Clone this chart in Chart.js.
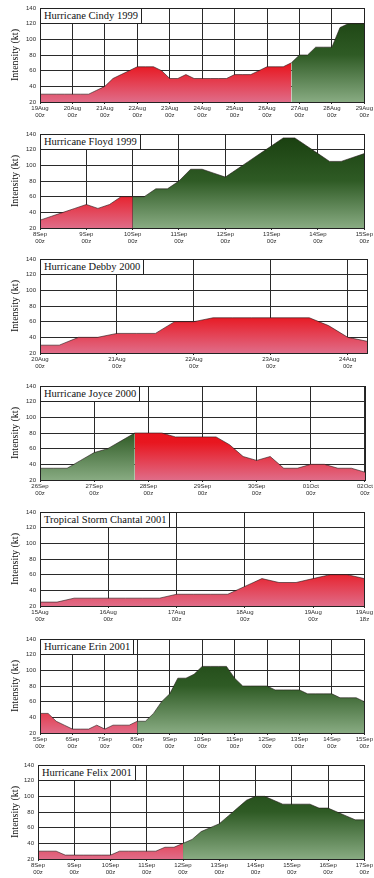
<!DOCTYPE html>
<html>
<head>
<meta charset="utf-8">
<script src="https://cdn.jsdelivr.net/npm/chart.js@4.4.0/dist/chart.umd.min.js"></script>
<style>
body { margin: 0; background: #fff; width: 374px; height: 878px; overflow: hidden; position: relative; }
.panel { position: absolute; left: 0; width: 374px; height: 125px; }
.title { position: absolute; background: #fff; border: 1px solid #222; font: 10.5px "Liberation Serif", serif; color: #111; padding: 0 3px; line-height: 14px; white-space: nowrap; }
</style>
</head>
<body>
<script>
// intensity in kt, every 6 hours from the first tick
var cindyName = 'Hurricane Cindy 1999';
var cindyKt = [30, 30, 30, 30, 30, 30, 30, 35, 40, 50, 55, 60, 65, 65, 65, 60, 50, 50, 55, 50, 50,
    50, 50, 50, 55, 55, 55, 60, 65, 65, 65, 70, 80, 80, 90, 90, 90, 115, 120, 120, 120];
var cindySplit = 31;
var cindyColours = ['red', 'green'];
var cindyTickHours = [0, 24, 48, 72, 96, 120, 144, 168, 192, 216, 240];
var cindyTickLabels = ['19Aug 00z', '20Aug 00z', '21Aug 00z', '22Aug 00z', '23Aug 00z', '24Aug 00z',
    '25Aug 00z', '26Aug 00z', '27Aug 00z', '28Aug 00z', '29Aug 00z'];

var floydName = 'Hurricane Floyd 1999';
var floydKt = [30, 35, 40, 45, 50, 45, 50, 60, 60, 60, 70, 70, 80, 95, 95, 90, 85, 95, 105, 115,
    125, 135, 135, 125, 115, 105, 105, 110, 115];
var floydSplit = 8;
var floydColours = ['red', 'green'];
var floydTickHours = [0, 24, 48, 72, 96, 120, 144, 168];
var floydTickLabels = ['8Sep 00z', '9Sep 00z', '10Sep 00z', '11Sep 00z', '12Sep 00z', '13Sep 00z',
    '14Sep 00z', '15Sep 00z'];

var debbyName = 'Hurricane Debby 2000';
var debbyKt = [30, 30, 40, 40, 45, 45, 45, 60, 60, 65, 65, 65, 65, 65, 65, 55, 40, 35];
var debbySplit = null;
var debbyColours = ['red'];
var debbyTickHours = [0, 24, 48, 72, 96];
var debbyTickLabels = ['20Aug 00z', '21Aug 00z', '22Aug 00z', '23Aug 00z', '24Aug 00z'];

var joyceName = 'Hurricane Joyce 2000';
var joyceKt = [35, 35, 35, 45, 55, 60, 70, 80, 80, 80, 75, 75, 75, 75, 65, 50, 45, 50, 35, 35,
    40, 40, 35, 35, 30];
var joyceSplit = 7;
var joyceColours = ['green', 'red'];
var joyceTickHours = [0, 24, 48, 72, 96, 120, 144];
var joyceTickLabels = ['26Sep 00z', '27Sep 00z', '28Sep 00z', '29Sep 00z', '30Sep 00z', '01Oct 00z', '02Oct 00z'];

var chantalName = 'Tropical Storm Chantal 2001';
var chantalKt = [25, 25, 30, 30, 30, 30, 30, 30, 35, 35, 35, 35, 45, 55, 50, 50, 55, 60, 60, 55];
var chantalSplit = null;
var chantalColours = ['red'];
var chantalTickHours = [0, 24, 48, 72, 96, 114];
var chantalTickLabels = ['15Aug 00z', '16Aug 00z', '17Aug 00z', '18Aug 00z', '19Aug 00z', '19Aug 18z'];

var erinName = 'Hurricane Erin 2001';
var erinKt = [45, 45, 35, 30, 25, 25, 25, 30, 25, 30, 30, 30, 35, 35, 45, 60, 70, 90, 90, 95, 105,
    105, 105, 105, 90, 80, 80, 80, 80, 75, 75, 75, 75, 70, 70, 70, 70, 65, 65, 65, 60];
var erinSplit = 12;
var erinColours = ['red', 'green'];
var erinTickHours = [0, 24, 48, 72, 96, 120, 144, 168, 192, 216, 240];
var erinTickLabels = ['5Sep 00z', '6Sep 00z', '7Sep 00z', '8Sep 00z', '9Sep 00z', '10Sep 00z',
    '11Sep 00z', '12Sep 00z', '13Sep 00z', '14Sep 00z', '15Sep 00z'];

var felixName = 'Hurricane Felix 2001';
var felixKt = [30, 30, 30, 25, 25, 25, 25, 25, 25, 30, 30, 30, 30, 30, 35, 35, 40, 45, 55, 60, 65,
    75, 85, 95, 100, 100, 95, 90, 90, 90, 90, 85, 85, 80, 75, 70, 70];
var felixSplit = 16;
var felixColours = ['red', 'green'];
var felixTickHours = [0, 24, 48, 72, 96, 120, 144, 168, 192, 216];
var felixTickLabels = ['8Sep 00z', '9Sep 00z', '10Sep 00z', '11Sep 00z', '12Sep 00z', '13Sep 00z',
    '14Sep 00z', '15Sep 00z', '16Sep 00z', '17Sep 00z'];

var storms = [
    {name: cindyName, kt: cindyKt, split: cindySplit, colours: cindyColours, tickHours: cindyTickHours, tickLabels: cindyTickLabels},
    {name: floydName, kt: floydKt, split: floydSplit, colours: floydColours, tickHours: floydTickHours, tickLabels: floydTickLabels},
    {name: debbyName, kt: debbyKt, split: debbySplit, colours: debbyColours, tickHours: debbyTickHours, tickLabels: debbyTickLabels},
    {name: joyceName, kt: joyceKt, split: joyceSplit, colours: joyceColours, tickHours: joyceTickHours, tickLabels: joyceTickLabels},
    {name: chantalName, kt: chantalKt, split: chantalSplit, colours: chantalColours, tickHours: chantalTickHours, tickLabels: chantalTickLabels},
    {name: erinName, kt: erinKt, split: erinSplit, colours: erinColours, tickHours: erinTickHours, tickLabels: erinTickLabels},
    {name: felixName, kt: felixKt, split: felixSplit, colours: felixColours, tickHours: felixTickHours, tickLabels: felixTickLabels}
];

// page layout of the seven panels
var panelTops = [0, 126, 251, 378, 504, 631, 757];
var panelLefts = [40, 40, 40, 40, 40, 40, 38];
var panelRightPads = [7, 7, 7, 9, 7, 8, 9];

function fillFor(colour) {
    return function (context) {
        var area = context.chart.chartArea;
        if (!area) {
            return null;
        }
        var g = context.chart.ctx.createLinearGradient(0, area.top, 0, area.bottom);
        if (colour === 'red') {
            g.addColorStop(0, '#ec0f18');
            g.addColorStop(0.6, '#e8161f');
            g.addColorStop(1, '#e06c88');
        } else {
            g.addColorStop(0, '#183e0e');
            g.addColorStop(0.5, '#2f5b25');
            g.addColorStop(1, '#88ab82');
        }
        return g;
    };
}

var frame = {
    id: 'frame',
    afterDatasetsDraw: function (chart) {
        var a = chart.chartArea;
        var ctx = chart.ctx;
        ctx.save();
        ctx.strokeStyle = '#222';
        ctx.lineWidth = 1;
        ctx.strokeRect(Math.round(a.left) + 0.5, Math.round(a.top) + 0.5, Math.round(a.right - a.left), Math.round(a.bottom - a.top));
        ctx.restore();
    }
};

function makeChart(storm, n) {
    var div = document.createElement('div');
    div.className = 'panel';
    div.style.top = panelTops[n] + 'px';
    var canvas = document.createElement('canvas');
    canvas.width = 374;
    canvas.height = 125;
    div.appendChild(canvas);
    document.body.appendChild(div);

    var segments = [];
    if (storm.split === null) {
        segments.push({from: 0, to: storm.kt.length - 1, colour: storm.colours[0]});
    } else {
        segments.push({from: 0, to: storm.split, colour: storm.colours[0]});
        segments.push({from: storm.split, to: storm.kt.length - 1, colour: storm.colours[1]});
    }

    var datasets = segments.map(function (seg) {
        var pts = [];
        for (var i = seg.from; i <= seg.to; i++) {
            pts.push({x: i * 6, y: storm.kt[i]});
        }
        return {
            data: pts,
            fill: 'start',
            backgroundColor: fillFor(seg.colour),
            borderColor: 'rgba(35,25,25,0.6)',
            borderWidth: 1,
            pointRadius: 0,
            tension: 0
        };
    });

    var yWidth = panelLefts[n];
    var chart = new Chart(canvas, {
        type: 'line',
        data: {datasets: datasets},
        plugins: [frame],
        options: {
            responsive: false,
            animation: false,
            devicePixelRatio: 1,
            layout: {padding: {top: 8, right: panelRightPads[n], left: 0, bottom: 0}},
            plugins: {legend: {display: false}, tooltip: {enabled: false}},
            scales: {
                x: {
                    type: 'linear',
                    min: 0,
                    max: (storm.kt.length - 1) * 6,
                    afterBuildTicks: function (scale) {
                        scale.ticks = storm.tickHours.map(function (v) {
                            return {value: v};
                        });
                    },
                    afterFit: function (scale) {
                        scale.height = 23;
                    },
                    ticks: {
                        autoSkip: false,
                        maxRotation: 0,
                        padding: 1,
                        color: '#2a2a2a',
                        font: {family: 'Liberation Sans', size: 6},
                        callback: function (v, i) {
                            return storm.tickLabels[i].split(' ');
                        }
                    },
                    grid: {color: '#2a2a2a', lineWidth: 1, tickLength: 2},
                    border: {display: false}
                },
                y: {
                    min: 20,
                    max: 140,
                    afterFit: function (scale) {
                        scale.width = yWidth;
                    },
                    ticks: {
                        stepSize: 20,
                        padding: 4,
                        color: '#2a2a2a',
                        font: {family: 'Liberation Sans', size: 6}
                    },
                    grid: {color: '#2a2a2a', lineWidth: 1, drawTicks: false},
                    border: {display: false},
                    title: {
                        display: true,
                        text: 'Intensity (kt)',
                        color: '#111',
                        font: {family: 'Liberation Serif', size: 10},
                        padding: {top: 9, bottom: 0}
                    }
                }
            }
        }
    });

    var area = chart.chartArea;
    var title = document.createElement('div');
    title.className = 'title';
    title.textContent = storm.name;
    title.style.left = Math.round(area.left) + 'px';
    title.style.top = Math.round(area.top) + 'px';
    div.appendChild(title);
}

storms.forEach(function (storm, n) {
    makeChart(storm, n);
});
</script>
</body>
</html>
